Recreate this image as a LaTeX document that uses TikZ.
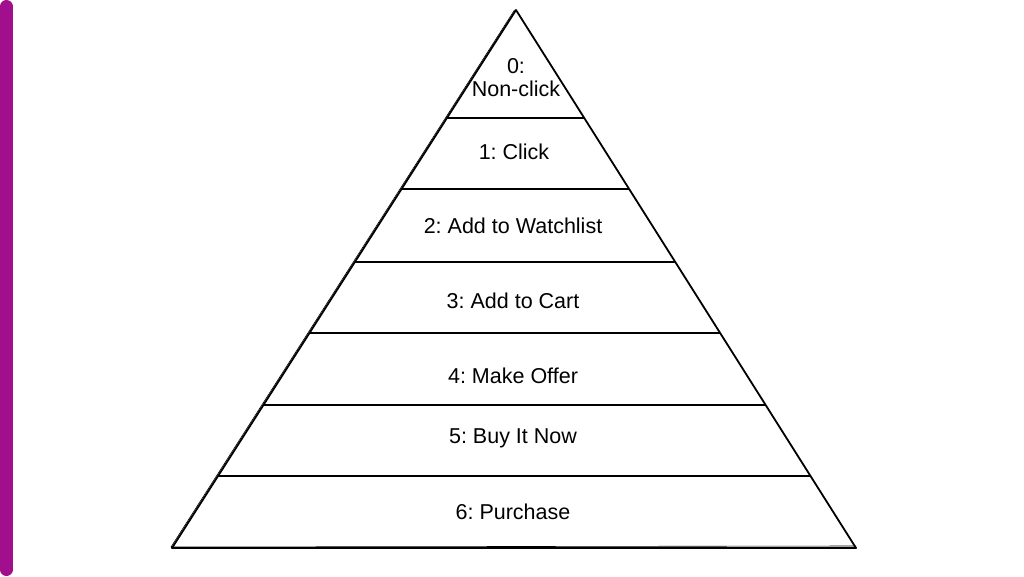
\documentclass[tikz,border=0pt]{standalone}
\usepackage{fontspec}
\setmainfont{Liberation Sans}
\frenchspacing
\usetikzlibrary{positioning,calc}
\definecolor{barpurple}{RGB}{161,15,141}

\begin{document}
\begin{tikzpicture}[x=1pt, y=-1pt,
    edge/.style = {line width=1.8pt, line join=round},
    rough/.style = {line width=0.6pt, line join=round},
    level/.style = {font=\fontsize{21.5}{24}\selectfont, align=center}]
				      \useasboundingbox (0,0) rectangle (1024,576);
				      \draw[line width=12.6pt, line cap=round, barpurple] (6.3,6.3) -- (6.3,569.7);
				      \coordinate (apex) at (516,10);
				      \coordinate (bl)   at (172,548);
				      \coordinate (br)   at (856,548);
				      \draw[edge] (apex) -- (bl) -- (br) -- cycle;
				      \draw[rough] ([xshift=-1.5pt]apex) -- ([xshift=-1pt,yshift=1pt]bl) -- ([yshift=2pt]br);
				      \foreach \y in {118,189,262,333,405,476}
				        \draw[edge] ($(apex)!{(\y-10)/538}!(bl)$) -- ($(apex)!{(\y-10)/538}!(br)$);
				      \node[level, name=l0] at (516,78)  {0:\\[-1pt]Non-click};
				      \node[level, name=l1] at (514,152) {1: Click};
				      \node[level, name=l2] at (513,226) {2: Add to Watchlist};
				      \node[level, name=l3] at (513,301) {3: Add to Cart};
				      \node[level, name=l4] at (513,376) {4: Make Offer};
				      \node[level, name=l5] at (513,438) {5: Buy It Now};
				      \node[level, name=l6] at (513,512) {6: Purchase};
			      \end{tikzpicture}
\end{document}
